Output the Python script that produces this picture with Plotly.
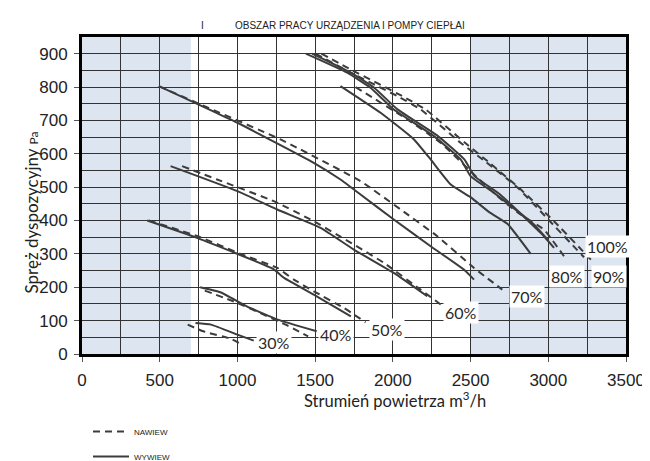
import plotly.graph_objects as go

# ---------------- data ----------------
levels = ["30%", "40%", "50%", "60%", "70%", "80%", "90%", "100%"]

# NAWIEW (dashed) curves: airflow m3/h and pressure Pa
naw_30_x = [680, 780, 960, 1030]
naw_30_y = [88, 68, 45, 28]
naw_40_x = [790, 1000, 1310, 1455]
naw_40_y = [190, 153, 88, 53]
naw_50_x = [430, 750, 1020, 1256, 1363, 1491, 1685, 1824]
naw_50_y = [400, 352, 300, 258, 223, 188, 138, 95]
naw_60_x = [644, 869, 1234, 1491, 1640, 1943, 2178, 2318]
naw_60_y = [563, 523, 458, 398, 358, 273, 193, 145]
naw_70_x = [494, 762, 1277, 1792, 2050, 2286, 2522, 2704]
naw_70_y = [803, 748, 643, 518, 433, 353, 258, 193]
naw_80_x = [1760, 2093, 2307, 2540, 2672, 2822, 2972, 3101]
naw_80_y = [800, 703, 633, 530, 473, 418, 373, 293]
naw_90_x = [1502, 1700, 2028, 2179, 2436, 2600, 2800, 3000, 3230]
naw_90_y = [900, 850, 773, 733, 633, 575, 500, 403, 290]
naw_100_x = [1540, 1740, 2060, 2210, 2464, 2630, 2830, 3037, 3274]
naw_100_y = [900, 850, 773, 733, 633, 570, 490, 398, 283]

# WYWIEW (solid) curves
wyw_30_x = [730, 830, 1000, 1105]
wyw_30_y = [93, 88, 58, 40]
wyw_40_x = [760, 890, 1060, 1260, 1510]
wyw_40_y = [200, 185, 143, 103, 68]
wyw_50_x = [420, 740, 1230, 1300, 1510, 1730]
wyw_50_y = [400, 348, 255, 228, 173, 113]
wyw_60_x = [570, 1000, 1256, 1535, 1749, 2006, 2221]
wyw_60_y = [563, 488, 433, 378, 313, 243, 173]
wyw_70_x = [494, 1000, 1491, 1663, 1792, 2006, 2243, 2457, 2522]
wyw_70_y = [803, 693, 573, 523, 478, 403, 323, 253, 223]
wyw_80_x = [1663, 1921, 2136, 2243, 2372, 2500, 2620, 2737, 2887]
wyw_80_y = [803, 723, 643, 583, 508, 470, 425, 390, 300]
wyw_90_x = [1440, 1706, 1856, 2006, 2264, 2436, 2500, 2651, 2908, 3000]
wyw_90_y = [900, 843, 798, 733, 653, 583, 533, 483, 388, 340]
wyw_100_x = [1480, 1730, 1880, 2030, 2290, 2460, 2525, 2690, 2972, 3037]
wyw_100_y = [900, 843, 798, 733, 653, 583, 533, 478, 353, 318]

# curve labels (position in data units)
label_x = [1234, 1631, 1963, 2436, 2865, 3123, 3391, 3380]
label_y = [33, 58, 73, 123, 171, 231, 231, 323]

# shaded areas (outside working range)
shade_x0 = [0, 2500]
shade_x1 = [700, 3500]

x_ticks = [0, 500, 1000, 1500, 2000, 2500, 3000, 3500]
y_ticks = [0, 100, 200, 300, 400, 500, 600, 700, 800, 900]

nawiew = [(naw_30_x, naw_30_y), (naw_40_x, naw_40_y), (naw_50_x, naw_50_y),
          (naw_60_x, naw_60_y), (naw_70_x, naw_70_y), (naw_80_x, naw_80_y),
          (naw_90_x, naw_90_y), (naw_100_x, naw_100_y)]
wywiew = [(wyw_30_x, wyw_30_y), (wyw_40_x, wyw_40_y), (wyw_50_x, wyw_50_y),
          (wyw_60_x, wyw_60_y), (wyw_70_x, wyw_70_y), (wyw_80_x, wyw_80_y),
          (wyw_90_x, wyw_90_y), (wyw_100_x, wyw_100_y)]

LINE = "#3c3c3c"
fig = go.Figure()

for i, (xs, ys) in enumerate(nawiew):
    fig.add_trace(go.Scatter(
        x=xs, y=ys, mode="lines", name="NAWIEW",
        line=dict(color=LINE, width=2, dash="7px,5px", shape="spline", smoothing=0.4),
        legendgroup="n", showlegend=(i == 0), hoverinfo="skip"))
for i, (xs, ys) in enumerate(wywiew):
    fig.add_trace(go.Scatter(
        x=xs, y=ys, mode="lines", name="WYWIEW",
        line=dict(color=LINE, width=2, shape="spline", smoothing=0.4),
        legendgroup="w", showlegend=(i == 0), hoverinfo="skip"))

for x0, x1 in zip(shade_x0, shade_x1):
    fig.add_shape(type="rect", xref="x", yref="paper", x0=x0, x1=x1, y0=0, y1=1,
                  fillcolor="#dde5f1", line=dict(width=0), layer="below")

for t, lx, ly in zip(levels, label_x, label_y):
    fig.add_annotation(x=lx, y=ly, text=t, showarrow=False,
                       font=dict(family="Lato", size=16, color="#2a2a2a"),
                       bgcolor="white", borderpad=1)

# page offset of the plot div (body margin) is 8px
PW, PH = 544.0, 317.0   # plot area size in px
L, T = 82.0, 37.0       # plot area top-left in page px


def px(xp):
    return (xp - L) / PW


def py(yp):
    return (T + PH - yp) / PH


# title
fig.add_annotation(xref="paper", yref="paper", x=px(199), y=py(18),
                   text="I", showarrow=False, font=dict(family="Liberation Sans", size=10, color="#222"))
fig.add_annotation(xref="paper", yref="paper", x=px(350), y=py(18),
                   text="OBSZAR PRACY URZĄDZENIA I POMPY CIEPŁAI", showarrow=False,
                   font=dict(family="Liberation Sans", size=10, color="#222"))
# axis titles
fig.add_annotation(xref="paper", yref="paper", x=px(395), y=py(413),
                   text="Strumień powietrza m<sup>3</sup>/h", showarrow=False,
                   font=dict(family="Lato", size=16.5, color="#222"))
fig.add_annotation(xref="paper", yref="paper", x=px(18), y=py(213),
                   text="Spręż dyspozycyjny <span style='font-size:12px'>Pa</span>",
                   textangle=-90, showarrow=False,
                   font=dict(family="Lato", size=17, color="#222"))

axis_common = dict(
    showline=True, mirror=True, linewidth=3, linecolor="black",
    showgrid=True, gridcolor="#333", gridwidth=1, zeroline=False,
    ticks="outside", ticklen=5, tickcolor="#555",
    tickfont=dict(family="Liberation Sans", size=17, color="#222"),
    automargin=False,
)
fig.update_xaxes(range=[0, 3500], tickvals=x_ticks, ticklabelstandoff=4,
                 minor=dict(tickvals=[250, 750, 1250, 1750, 2250, 2750, 3250],
                            showgrid=True, gridcolor="#333", gridwidth=1),
                 **axis_common)
fig.update_yaxes(range=[0, 950], tickvals=y_ticks, ticklabelstandoff=3,
                 minor=dict(tickvals=[50, 150, 250, 350, 450, 550, 650, 750, 850, 950],
                            showgrid=True, gridcolor="#333", gridwidth=1),
                 **axis_common)

fig.update_layout(
    width=642, height=453,
    margin=dict(l=74, r=24, t=29, b=107, autoexpand=False),
    paper_bgcolor="white", plot_bgcolor="white",
    legend=dict(x=px(88), y=py(417), xanchor="left", yanchor="top",
                font=dict(family="Liberation Sans", size=8, color="#222"),
                tracegroupgap=6, itemwidth=36, bgcolor="rgba(0,0,0,0)"),
    showlegend=True,
)

fig.write_html("out.html")
